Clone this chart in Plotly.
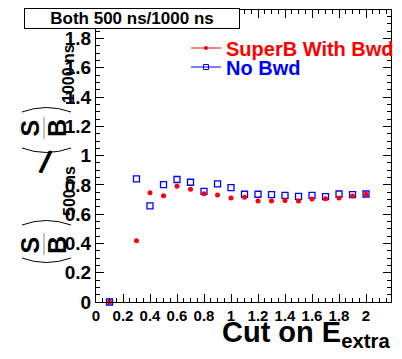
import plotly.graph_objects as go

# Cut values on E_extra and the ratio (S/sqrt(B))_500ns / (S/sqrt(B))_1000ns
cut_superb = [0.1, 0.3, 0.4, 0.5, 0.6, 0.7, 0.8, 0.9, 1.0, 1.1, 1.2, 1.3, 1.4, 1.5, 1.6, 1.7, 1.8, 1.9, 2.0]
ratio_superb = [0.0, 0.418, 0.747, 0.726, 0.791, 0.770, 0.740, 0.731, 0.710, 0.715, 0.690, 0.690,
                0.694, 0.690, 0.703, 0.706, 0.710, 0.724, 0.736]

cut_nobwd = [0.1, 0.3, 0.4, 0.5, 0.6, 0.7, 0.8, 0.9, 1.0, 1.1, 1.2, 1.3, 1.4, 1.5, 1.6, 1.7, 1.8, 1.9, 2.0]
ratio_nobwd = [0.0, 0.841, 0.657, 0.802, 0.837, 0.818, 0.756, 0.807, 0.782, 0.736, 0.736, 0.733,
               0.729, 0.722, 0.729, 0.720, 0.738, 0.733, 0.738]

x_range = [0, 2.185]
y_range = [0, 1.995]

W, H = 402, 359
L, R, T, B = 96, 391, 10, 302
FONT = "Liberation Sans"
RED = "#ff0000"
BLUE = "#0000ff"


def px(x):
    return (x - L) / (R - L)


def py(y):
    return (B - y) / (B - T)


fig = go.Figure()

# data points (blue first so red sits on top)
fig.add_trace(go.Scatter(
    x=cut_nobwd, y=ratio_nobwd, mode="markers", showlegend=False, cliponaxis=False,
    marker=dict(symbol="square-open", size=6, color=BLUE, line=dict(width=1.3, color=BLUE)),
))
fig.add_trace(go.Scatter(
    x=cut_superb, y=ratio_superb, mode="markers", showlegend=False, cliponaxis=False,
    marker=dict(symbol="circle", size=5, color=RED, line=dict(width=0)),
))

# legend entries
fig.add_trace(go.Scatter(
    x=[None], y=[None], mode="lines+markers", name="SuperB With Bwd", legend="legend",
    line=dict(color=RED, width=1), marker=dict(symbol="circle", size=4, color=RED),
))
fig.add_trace(go.Scatter(
    x=[None], y=[None], mode="lines+markers", name="No Bwd", legend="legend2",
    line=dict(color=BLUE, width=1),
    marker=dict(symbol="square-open", size=5, color=BLUE, line=dict(width=1, color=BLUE)),
))

axis_common = dict(
    showgrid=False, zeroline=False, showline=True, linecolor="black", linewidth=1,
    ticks="inside", ticklen=8, tickwidth=1, tickcolor="black", mirror="allticks",
    minor=dict(ticks="inside", ticklen=4, tickwidth=1, tickcolor="black", dtick=0.05, showgrid=False),
    dtick=0.2, tick0=0, automargin=False,
)

fig.update_xaxes(range=x_range, tickfont=dict(family=FONT, size=15, color="black", weight="bold"),
                 **axis_common)
fig.update_yaxes(range=y_range, tickfont=dict(family=FONT, size=19, color="black", weight="bold"),
                 **axis_common)

ann = []
# title box
ann.append(dict(
    text="Both 500 ns/1000 ns", x=px(132), y=py(18.5), xref="paper", yref="paper",
    xanchor="center", yanchor="middle", showarrow=False,
    font=dict(family=FONT, size=17, color="black", weight="bold"),
    bgcolor="white", bordercolor="black", borderwidth=1, borderpad=0, width=214, height=19,
))
# x-axis title
ann.append(dict(
    text="Cut on E<sub>extra</sub>", x=px(392), y=0, xref="paper", yref="paper",
    xanchor="right", yanchor="top", yshift=-12, showarrow=False,
    font=dict(family=FONT, size=29, color="black", weight="bold"),
))

# y-axis title: (S/B)_500ns / (S/B)_1000ns, rotated
def ytext(t, x, y, size, angle=-90):
    return dict(text=t, x=px(x), y=py(y), xref="paper", yref="paper", xanchor="center",
                yanchor="middle", showarrow=False, textangle=angle,
                font=dict(family=FONT, size=size, color="black", weight="bold"))


for yc in (245, 128):
    ann.append(ytext("S", 29.5, yc, 25))
    ann.append(ytext("B", 57, yc, 25))
ann.append(ytext("500 ns", 70, 191, 16))
ann.append(ytext("1000 ns", 68, 74, 16))
ann.append(ytext("/", 45, 162, 32, angle=15))

shapes = []
for (top_y, bot_y, bar0, bar1) in ((225, 258, 233, 255), (112, 148, 117, 139)):
    shapes.append(dict(type="path", xref="paper", yref="paper",
                       path=f"M {px(22)},{py(top_y)} Q {px(46)},{py(top_y - 9)} {px(71)},{py(top_y)}",
                       line=dict(color="black", width=1)))
    shapes.append(dict(type="path", xref="paper", yref="paper",
                       path=f"M {px(22)},{py(bot_y)} Q {px(46)},{py(bot_y + 9)} {px(71)},{py(bot_y)}",
                       line=dict(color="black", width=1)))
    shapes.append(dict(type="line", xref="paper", yref="paper", x0=px(44), x1=px(44),
                       y0=py(bar0), y1=py(bar1), line=dict(color="#888888", width=1)))

legend_font = dict(family=FONT, size=20, weight="bold")
fig.update_layout(
    width=W, height=H,
    margin=dict(l=L, r=W - R, t=T, b=H - B, autoexpand=False),
    paper_bgcolor="white", plot_bgcolor="white",
    annotations=ann, shapes=shapes,
    legend=dict(x=px(186), y=py(48), xanchor="left", yanchor="middle", bgcolor="rgba(0,0,0,0)",
                font=dict(color=RED, **legend_font), itemwidth=30, borderwidth=0),
    legend2=dict(x=px(186), y=py(67), xanchor="left", yanchor="middle", bgcolor="rgba(0,0,0,0)",
                 font=dict(color=BLUE, **legend_font), itemwidth=30, borderwidth=0),
)

fig.write_html("out.html")
